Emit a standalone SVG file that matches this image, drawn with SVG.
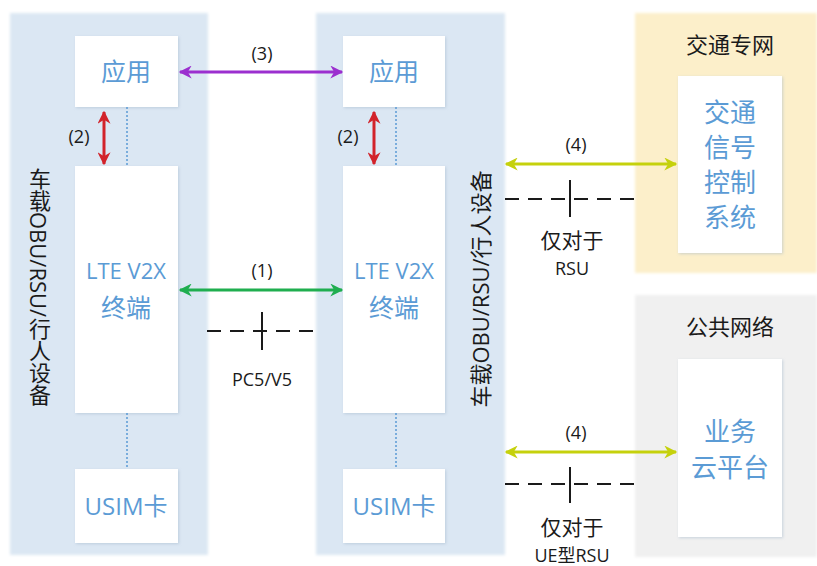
<svg xmlns="http://www.w3.org/2000/svg" width="817" height="566" viewBox="0 0 817 566">
<defs>
<style>
.panel{fill:#dbe7f3;filter:url(#soft)}
.box{fill:#ffffff;filter:url(#sh)}
.blue{fill:#5b9bd5;font-family:"Open Sans","Noto Sans CJK SC",sans-serif;text-anchor:middle}
.blk{fill:#1a1a1a;font-family:"Open Sans","Noto Sans CJK SC",sans-serif;text-anchor:middle}
.dot{stroke:#5b9bd5;stroke-width:1.5;stroke-dasharray:2 2;fill:none}
.dash{stroke:#1a1a1a;stroke-width:2;stroke-dasharray:14 9;fill:none}
.tick{stroke:#1a1a1a;stroke-width:2}
</style>
<filter id="soft" x="-5%" y="-5%" width="110%" height="110%"><feGaussianBlur stdDeviation="1.5"/></filter>
<filter id="sh" x="-10%" y="-10%" width="120%" height="120%"><feDropShadow dx="1" dy="1" stdDeviation="1.5" flood-color="#9fb3c8" flood-opacity="0.5"/></filter>
<marker id="mP" viewBox="0 0 10 10" refX="9" refY="5" markerWidth="15" markerHeight="13" markerUnits="userSpaceOnUse" orient="auto-start-reverse"><path d="M0,0 L10,5 L0,10 L3,5 Z" fill="#9b2fcf"/></marker>
<marker id="mG" viewBox="0 0 10 10" refX="9" refY="5" markerWidth="15" markerHeight="13" markerUnits="userSpaceOnUse" orient="auto-start-reverse"><path d="M0,0 L10,5 L0,10 L3,5 Z" fill="#1fae4f"/></marker>
<marker id="mR" viewBox="0 0 10 10" refX="9" refY="5" markerWidth="13" markerHeight="13" markerUnits="userSpaceOnUse" orient="auto-start-reverse"><path d="M0,0 L10,5 L0,10 L3,5 Z" fill="#d2232a"/></marker>
<marker id="mY" viewBox="0 0 10 10" refX="9" refY="5" markerWidth="15" markerHeight="13" markerUnits="userSpaceOnUse" orient="auto-start-reverse"><path d="M0,0 L10,5 L0,10 L3,5 Z" fill="#c5d10c"/></marker>
</defs>
<rect width="817" height="566" fill="#ffffff"/>

<g id="left-device">
<rect class="panel" x="10" y="13" width="198" height="542"/>
<text x="39" y="168" style="writing-mode:vertical-rl" font-family="'Open Sans','Noto Sans CJK SC',sans-serif" font-size="22" fill="#1a1a1a">车载OBU/RSU/行人设备</text>
</g>
<g id="left-app"><rect class="box" x="75" y="36" width="103" height="71"/><text class="blue" x="126" y="81" font-size="25">应用</text></g>
<g id="left-lte"><rect class="box" x="75" y="166" width="103" height="247"/><text class="blue" x="126" y="279" font-size="22">LTE V2X</text><text class="blue" x="126" y="317" font-size="25">终端</text></g>
<g id="left-usim"><rect class="box" x="75" y="469" width="103" height="74"/><text class="blue" x="126" y="515" font-size="24">USIM卡</text></g>

<g id="mid-device">
<rect class="panel" x="316" y="13" width="189" height="542"/>
<text transform="translate(489,289) rotate(-90)" text-anchor="middle" font-family="'Open Sans','Noto Sans CJK SC',sans-serif" font-size="22" fill="#1a1a1a">车载OBU/RSU/行人设备</text>
</g>
<g id="mid-app"><rect class="box" x="343" y="36" width="102" height="71"/><text class="blue" x="394" y="81" font-size="25">应用</text></g>
<g id="mid-lte"><rect class="box" x="343" y="166" width="102" height="247"/><text class="blue" x="394" y="279" font-size="22">LTE V2X</text><text class="blue" x="394" y="317" font-size="25">终端</text></g>
<g id="mid-usim"><rect class="box" x="343" y="469" width="102" height="74"/><text class="blue" x="394" y="515" font-size="24">USIM卡</text></g>

<g id="traffic-net">
<rect x="635" y="13" width="182" height="260" fill="#fcefca" filter="url(#soft)"/>
<text class="blk" x="730" y="53" font-size="22">交通专网</text>
</g>
<g id="traffic-signal"><rect class="box" x="678" y="76" width="104" height="177"/>
<text class="blue" x="730" y="122" font-size="26">交通</text>
<text class="blue" x="730" y="157" font-size="26">信号</text>
<text class="blue" x="730" y="192" font-size="26">控制</text>
<text class="blue" x="730" y="227" font-size="26">系统</text></g>

<g id="public-net">
<rect x="635" y="295" width="182" height="262" fill="#f0f0f0" filter="url(#soft)"/>
<text class="blk" x="730" y="335" font-size="22">公共网络</text>
</g>
<g id="cloud"><rect class="box" x="678" y="359" width="104" height="178"/>
<text class="blue" x="730" y="441" font-size="26">业务</text>
<text class="blue" x="730" y="477" font-size="26">云平台</text></g>

<g id="connectors">
<path class="dot" d="M127,107 V166 M127,413 V469 M396,107 V166 M396,413 V469"/>
<line x1="104" y1="112" x2="104" y2="164" stroke="#d2232a" stroke-width="3" marker-start="url(#mR)" marker-end="url(#mR)"/>
<text class="blk" x="79" y="143" font-size="18">(2)</text>
<line x1="374" y1="112" x2="374" y2="164" stroke="#d2232a" stroke-width="3" marker-start="url(#mR)" marker-end="url(#mR)"/>
<text class="blk" x="348" y="143" font-size="18">(2)</text>

<line x1="180" y1="72" x2="342" y2="72" stroke="#9b2fcf" stroke-width="3" marker-start="url(#mP)" marker-end="url(#mP)"/>
<text class="blk" x="262" y="60" font-size="18">(3)</text>

<line x1="180" y1="290" x2="342" y2="290" stroke="#1fae4f" stroke-width="3" marker-start="url(#mG)" marker-end="url(#mG)"/>
<text class="blk" x="262" y="277" font-size="18">(1)</text>
<line class="dash" x1="207" y1="331" x2="316" y2="331"/>
<line class="tick" x1="262" y1="312" x2="262" y2="350"/>
<text class="blk" x="262" y="386" font-size="18">PC5/V5</text>

<line x1="506" y1="164" x2="676" y2="164" stroke="#c5d10c" stroke-width="3" marker-start="url(#mY)" marker-end="url(#mY)"/>
<text class="blk" x="576" y="151" font-size="18">(4)</text>
<line class="dash" x1="505" y1="199" x2="635" y2="199"/>
<line class="tick" x1="570" y1="180" x2="570" y2="217"/>
<text class="blk" x="572" y="248" font-size="21">仅对于</text>
<text class="blk" x="572" y="275" font-size="18">RSU</text>

<line x1="506" y1="452" x2="676" y2="452" stroke="#c5d10c" stroke-width="3" marker-start="url(#mY)" marker-end="url(#mY)"/>
<text class="blk" x="576" y="439" font-size="18">(4)</text>
<line class="dash" x1="505" y1="484" x2="635" y2="484"/>
<line class="tick" x1="570" y1="467" x2="570" y2="503"/>
<text class="blk" x="572" y="535" font-size="21">仅对于</text>
<text class="blk" x="572" y="562" font-size="18">UE型RSU</text>
</g>
</svg>
